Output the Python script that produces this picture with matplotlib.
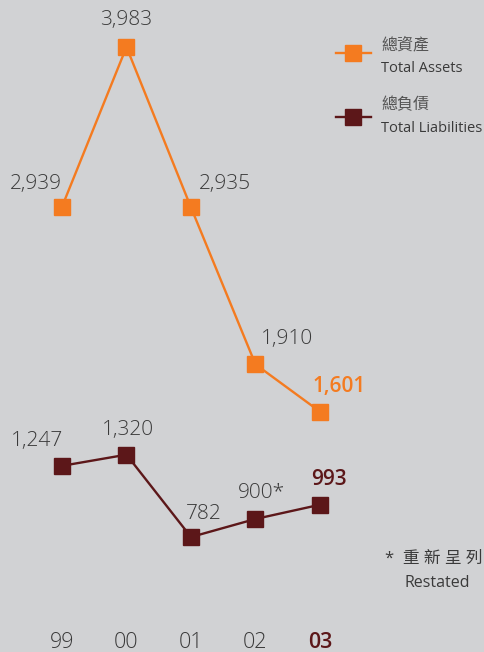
import matplotlib.pyplot as plt
from matplotlib.lines import Line2D

plt.rcParams['font.family'] = ['Open Sans', 'Noto Sans CJK TC', 'DejaVu Sans']

years = ['99', '00', '01', '02', '03']
total_assets = [2939, 3983, 2935, 1910, 1601]
total_liabilities = [1247, 1320, 782, 900, 993]
asset_labels = ['2,939', '3,983', '2,935', '1,910', '1,601']
liability_labels = ['1,247', '1,320', '782', '900*', '993']

bg = '#d1d2d4'
orange = '#f47b20'
maroon = '#5c1719'
grey = '#3a3a3a'
W, H = 484, 652


def fx(px):
    return px / W


def fy(py):
    return 1 - py / H


fig = plt.figure(figsize=(4.84, 6.52), dpi=100, facecolor=bg)
ax = fig.add_axes([0, 0, 1, 1])
ax.set_facecolor(bg)

x = list(range(len(years)))
ax.plot(x, total_assets, '-s', color=orange, lw=1.7, ms=12, mec=orange, zorder=3)
ax.plot(x, total_liabilities, '-s', color=maroon, lw=1.7, ms=12, mec=maroon, zorder=3)

# pixel offsets of the value labels relative to their markers
asset_off = [(-26, 23), (0, 27), (34, 23), (32, 25), (19, 25)]
liab_off = [(-25, 25), (2, 25), (13, 23), (6, 26), (9, 25)]

for i in x:
    last = i == len(years) - 1
    ax.annotate(asset_labels[i], (i, total_assets[i]), xytext=asset_off[i],
                textcoords='offset pixels', ha='center', va='center', fontsize=15,
                color=orange if last else grey,
                fontweight='semibold' if last else 'light')
    ax.annotate(liability_labels[i], (i, total_liabilities[i]), xytext=liab_off[i],
                textcoords='offset pixels', ha='center', va='center', fontsize=15,
                color=maroon if last else grey,
                fontweight='semibold' if last else 'light')
    ax.text(i, 95, years[i], ha='center', va='center', fontsize=15.5,
            color=maroon if last else grey,
            fontweight='semibold' if last else 'light')

# legend
for py, c in [(53, orange), (117, maroon)]:
    fig.add_artist(Line2D([fx(336), fx(371)], [fy(py), fy(py)], color=c, lw=1.7))
    fig.add_artist(Line2D([fx(353)], [fy(py)], marker='s', color=c, ms=12, ls='none'))
fig.text(fx(381), fy(45), '總資產', fontsize=11.5, color='#555555', va='center')
fig.text(fx(381), fy(68), 'Total Assets', fontsize=10.5, color=grey, va='center')
fig.text(fx(381), fy(105), '總負債', fontsize=11.5, color='#555555', va='center')
fig.text(fx(381), fy(128), 'Total Liabilities', fontsize=10.5, color=grey, va='center')

# footnote
fig.text(fx(385), fy(559), '*  重 新 呈 列', fontsize=12, color=grey, va='center')
fig.text(fx(405), fy(583), 'Restated', fontsize=11.5, color=grey, va='center')

ax.set_xlim(-0.961, 6.543)
ax.set_ylim(31, 4290)
ax.axis('off')

fig.savefig('out.png', dpi=100, facecolor=bg)
